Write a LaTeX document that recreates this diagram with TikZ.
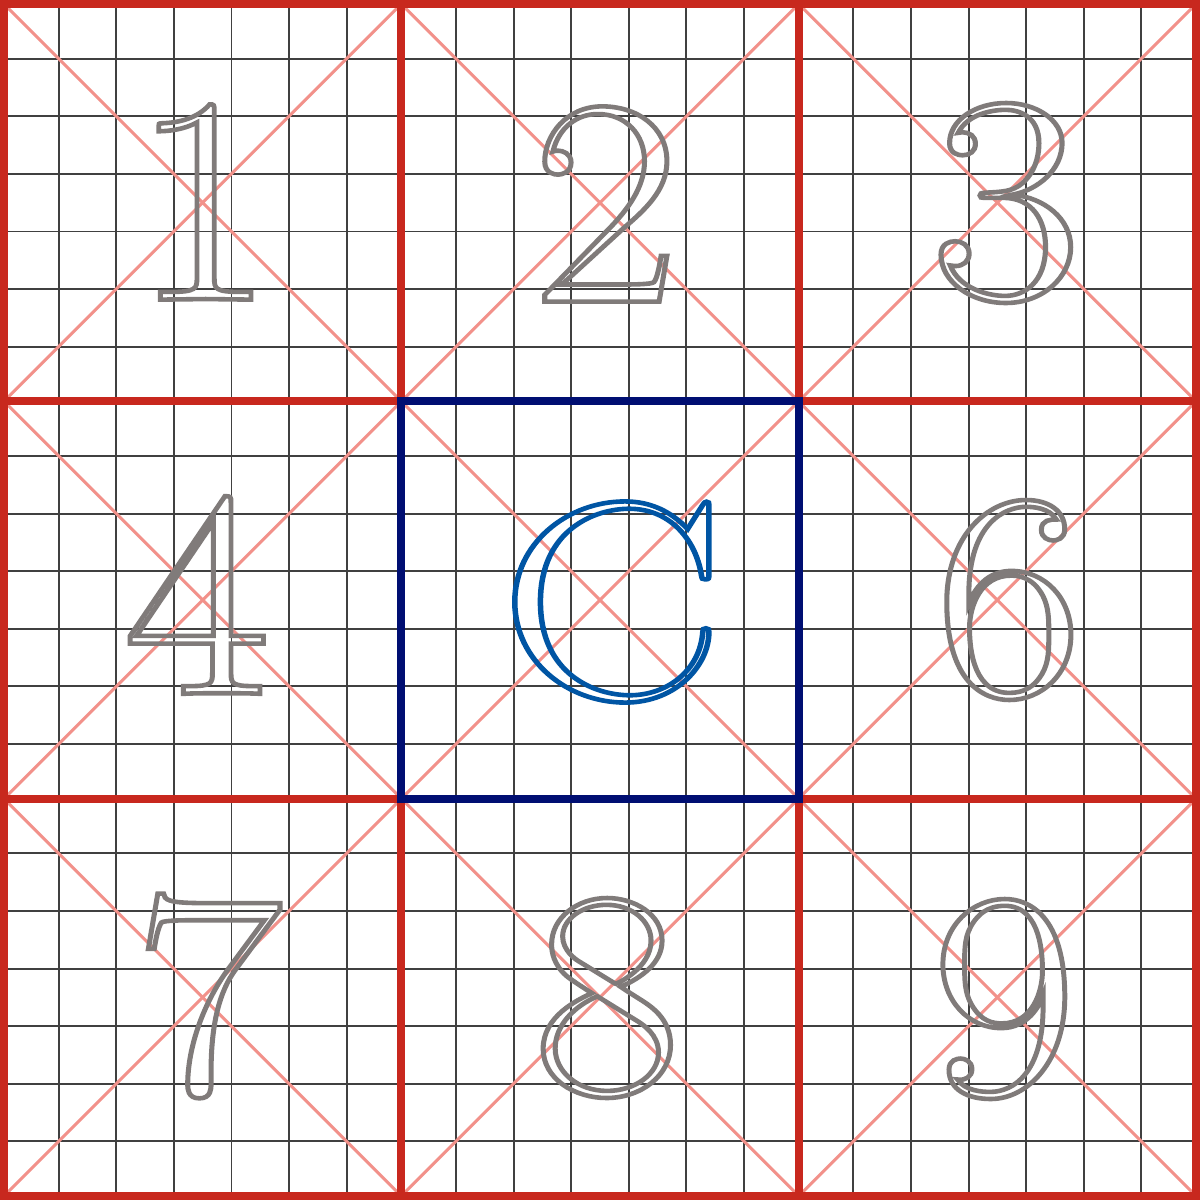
\documentclass[tikz,border=0pt]{standalone}
\definecolor{gridred}{HTML}{C8281E}
\definecolor{diagpink}{HTML}{F2918A}
\definecolor{navyframe}{HTML}{000E72}
\definecolor{cblue}{HTML}{0055A4}
\definecolor{digitgray}{HTML}{807B7A}
\definecolor{thingray}{HTML}{404040}
\newcommand{\outlined}[1]{\special{pdf:literal direct 1 Tr 1.3 w}#1\special{pdf:literal direct 0 Tr}}
\tikzset{
  thinline/.style={draw=thingray, line width=0.55pt},
  diagline/.style={draw=diagpink, line width=0.85pt},
  redline/.style={draw=gridred, line width=2.28pt},
  navyline/.style={draw=navyframe, line width=2.28pt},
  digit/.style={inner sep=0pt, text=digitgray, font=\fontsize{84}{84}\selectfont},
  centerletter/.style={inner sep=0pt, text=cblue, font=\fontsize{80}{80}\selectfont}
}
\begin{document}
\begin{tikzpicture}[x=0.01cm,y=-0.01cm]
\useasboundingbox (0,0) rectangle (1200,1200);
\fill[white] (0,0) rectangle (1200,1200);
% thin grid
\foreach \c in {4,401.333,798.667} {
  \foreach \k in {0,...,5} {
    \pgfmathsetmacro\p{\c+54.67+57.6*\k}
    \draw[thinline] (\p,4) -- (\p,1196);
    \draw[thinline] (4,\p) -- (1196,\p);
  }
}
% diagonals
\foreach \i in {0,1,2} {
  \foreach \j in {0,1,2} {
    \pgfmathsetmacro\xa{4+397.333*\i}
    \pgfmathsetmacro\ya{4+397.333*\j}
    \pgfmathsetmacro\xb{\xa+397.333}
    \pgfmathsetmacro\yb{\ya+397.333}
    \draw[diagline] (\xa,\ya) -- (\xb,\yb);
    \draw[diagline] (\xb,\ya) -- (\xa,\yb);
  }
}
% red cell lines
\foreach \p in {401.333,798.667} {
  \draw[redline] (\p,4) -- (\p,1196);
  \draw[redline] (4,\p) -- (1196,\p);
}
\draw[redline] (4,4) rectangle (1196,1196);
% central frame
\draw[navyline] (401.333,401.333) rectangle (798.667,798.667);
% characters
\node[digit] (d1) at (203,202) {\scalebox{1.05}[1]{\outlined{1}}};
\node[digit] (d2) at (606,204) {\scalebox{1.1}[1]{\outlined{2}}};
\node[digit] (d3) at (1006,203) {\scalebox{1.12}[1]{\outlined{3}}};
\node[digit] (d4) at (197,595) {\scalebox{1.08}[1]{\outlined{4}}};
\node[centerletter] (cc) at (612,602) {\scalebox{1.2}[1]{\outlined{C}}};
\node[digit] (d6) at (1009,600) {\scalebox{1.1}[1]{\outlined{6}}};
\node[digit] (d7) at (208,996) {\scalebox{1.1}[1]{\outlined{7}}};
\node[digit] (d8) at (607,998) {\scalebox{1.1}[1]{\outlined{8}}};
\node[digit] (d9) at (1004,999) {\scalebox{1.08}[1]{\outlined{9}}};
\end{tikzpicture}
\end{document}
